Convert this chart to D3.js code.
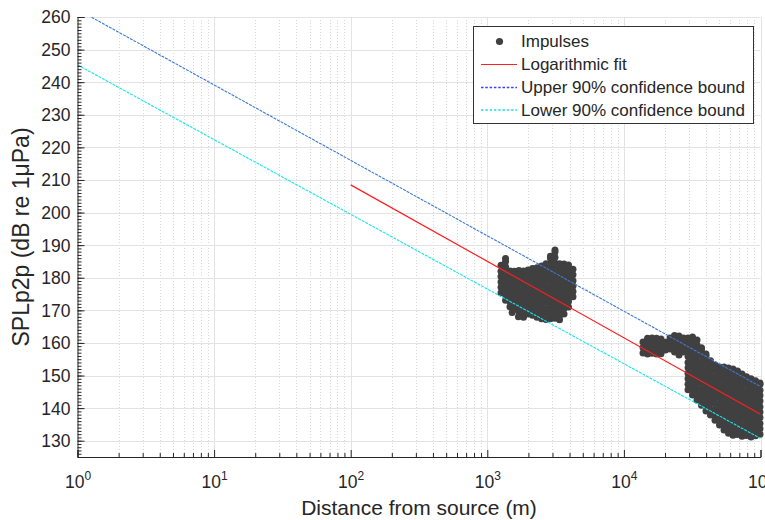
<!DOCTYPE html>
<html>
<head>
<meta charset="utf-8">
<script src="https://cdn.jsdelivr.net/npm/d3@7"></script>
<style>
  html, body { margin: 0; padding: 0; background: #fff; }
  svg { display: block; font-family: "Liberation Sans", Arial, Helvetica, sans-serif; }
</style>
</head>
<body>
<svg id="chart" width="765" height="520"></svg>
<script>
// Impulse peak-to-peak levels, grouped by distance: [distance (m), [SPLp2p values (dB)]]
const nearImpulses = [
  [1260, [175.4, 177.1, 178.7, 180.4, 182.0, 183.8]],
  [1360, [173.1, 174.8, 176.6, 178.2, 180.1, 181.7, 183.4, 185.0, 185.9]],
  [1465, [171.1, 172.7, 174.5, 176.1, 177.9, 179.6, 181.2, 182.1]],
  [1520, [169.3]],
  [1580, [170.3, 171.9, 173.6, 175.2, 177.0, 178.7, 180.3, 182.0]],
  [1690, [168.0]],
  [1705, [169.6, 171.2, 172.9, 174.7, 176.2, 178.0, 179.7, 181.3, 182.2]],
  [1840, [167.9, 169.3, 171.0, 172.6, 174.4, 176.0, 177.8, 179.4, 181.1, 182.1]],
  [1985, [168.9, 170.5, 172.3, 174.0, 175.6, 177.4, 179.0, 180.8, 182.4]],
  [2140, [168.5, 170.3, 171.9, 173.7, 175.3, 177.1, 178.7, 180.5, 182.1, 182.8]],
  [2310, [167.9, 169.7, 171.3, 173.0, 174.6, 176.4, 178.1, 179.7, 181.5, 183.1]],
  [2495, [167.4, 169.0, 170.8, 172.4, 174.2, 175.8, 177.6, 179.2, 181.0, 182.6, 183.6]],
  [2690, [167.2, 169.0, 170.6, 172.4, 174.0, 175.8, 177.4, 179.2, 180.8, 182.6, 184.3]],
  [2900, [167.4, 169.1, 170.7, 172.5, 174.2, 175.9, 177.5, 179.3, 180.9, 182.7, 184.4, 186.0, 186.6]],
  [3130, [167.6, 169.2, 171.0, 172.6, 174.4, 176.1, 177.7, 179.5, 181.1, 182.9, 184.5, 186.3, 187.9, 188.5]],
  [3380, [167.1, 168.3, 169.9, 171.6, 173.3, 174.9, 176.7, 178.3, 180.1, 181.7, 183.5, 184.3]],
  [3645, [168.9, 170.6, 172.2, 174.0, 175.6, 177.4, 179.0, 180.8, 182.5, 184.2]],
  [3930, [171.0, 172.7, 174.3, 176.1, 177.7, 179.5, 181.1, 182.9, 183.9]],
  [4240, [174.2, 175.8, 177.5, 179.1, 180.9, 182.6]]
];

const farImpulses = [
  [13800, [156.9, 158.6, 160.3]],
  [14890, [156.6, 158.2, 159.9, 161.4]],
  [16060, [156.8, 158.5, 160.2, 161.5]],
  [17330, [156.6, 158.3, 160.0, 161.4]],
  [18690, [156.7, 158.4, 160.1, 161.2]],
  [20160, [157.8, 159.3, 160.2]],
  [21760, [158.1, 159.8, 161.5]],
  [23470, [157.2, 158.9, 160.6, 162.3]],
  [25320, [156.3, 158.0, 159.7, 161.4, 162.1]],
  [27320, [157.2, 158.9, 160.6, 161.5]],
  [29470, [145.6, 147.3, 149.0, 150.6, 152.4, 154.0, 155.8, 157.5, 159.1, 160.9, 161.5]],
  [31780, [144.0, 145.7, 147.4, 149.1, 150.7, 152.5, 154.2, 155.8, 157.6, 159.2, 161.0, 161.8]],
  [34290, [142.5, 144.2, 145.8, 147.6, 149.2, 151.0, 152.7, 154.3, 156.1, 157.8, 159.4, 160.9]],
  [36990, [140.9, 142.6, 144.3, 145.9, 147.7, 149.3, 151.1, 152.8, 154.4, 156.2, 157.9, 158.5]],
  [39900, [139.1, 140.8, 142.4, 144.2, 145.9, 147.5, 149.3, 151.0, 152.6, 154.4, 156.0, 156.6]],
  [43050, [137.9, 139.5, 141.3, 143.0, 144.6, 146.4, 148.1, 149.7, 151.5, 153.2, 154.5]],
  [46440, [136.3, 138.0, 139.6, 141.4, 143.1, 144.7, 146.5, 148.2, 149.8, 151.6, 153.2]],
  [50110, [134.8, 136.4, 138.2, 139.9, 141.5, 143.3, 145.0, 146.6, 148.4, 150.1, 151.7, 152.6]],
  [54060, [133.3, 135.0, 136.6, 138.4, 140.1, 141.7, 143.5, 145.2, 146.8, 148.6, 150.3, 151.9, 152.6]],
  [58310, [132.3, 134.0, 135.7, 137.3, 139.1, 140.8, 142.4, 144.2, 145.9, 147.5, 149.3, 151.0, 152.3]],
  [62910, [131.7, 133.4, 135.0, 136.8, 138.5, 140.1, 141.9, 143.6, 145.2, 147.0, 148.7, 150.3, 152.0]],
  [67860, [131.9, 133.5, 135.3, 137.0, 138.6, 140.4, 142.1, 143.7, 145.5, 147.2, 148.8, 150.6, 151.4]],
  [73210, [131.4, 133.1, 134.7, 136.5, 138.2, 139.8, 141.6, 143.3, 144.9, 146.7, 148.4, 150.0, 150.5]],
  [78980, [131.6, 133.3, 134.9, 136.7, 138.4, 140.0, 141.8, 143.5, 145.1, 146.9, 148.5, 149.6]],
  [85210, [131.1, 132.8, 134.4, 136.2, 137.9, 139.5, 141.3, 143.0, 144.6, 146.4, 148.1, 149.0]],
  [91920, [131.5, 133.2, 134.8, 136.6, 138.3, 139.9, 141.7, 143.4, 145.0, 146.8, 148.4]],
  [99160, [132.0, 133.7, 135.3, 137.1, 138.8, 140.4, 142.2, 143.9, 145.5, 147.3, 147.7]]
];

// Logarithmic fit and its 90% confidence bounds, as [distance (m), SPL (dB)] end points
const fitLine    = [[100, 208.5], [100000, 138.1]];
const upperBound = [[1, 262.3],   [100000, 146.6]];
const lowerBound = [[1, 245.3],   [100000, 130.7]];

// Axis ticks
const xTicks = [1, 10, 100, 1000, 10000, 100000];
const xExponents = ["0", "1", "2", "3", "4", "5"];
const yTicks = [130, 140, 150, 160, 170, 180, 190, 200, 210, 220, 230, 240, 250, 260];

const legendLabels = ["Impulses", "Logarithmic fit", "Upper 90% confidence bound", "Lower 90% confidence bound"];

// ---------------------------------------------------------------------------
const plot = { left: 77.5, right: 760.5, top: 17, bottom: 457 };
const textColor = "#262626";

const x = d3.scaleLog().domain([1, 100000]).range([plot.left, plot.right]);
const y = d3.scaleLinear().domain([125, 260]).range([plot.bottom, plot.top]);
const crisp = v => Math.round(v) + 0.5;

const svg = d3.select("#chart");

svg.append("defs").append("clipPath").attr("id", "plotClip")
  .append("rect")
  .attr("x", plot.left).attr("y", plot.top)
  .attr("width", plot.right - plot.left).attr("height", plot.bottom - plot.top);

// Grid
const grid = svg.append("g");
const minorX = x.ticks().filter(v => !xTicks.includes(v));
grid.selectAll("line.minor-x").data(minorX).join("line")
  .attr("class", "minor-x")
  .attr("x1", d => crisp(x(d))).attr("x2", d => crisp(x(d)))
  .attr("y1", plot.top).attr("y2", plot.bottom)
  .attr("stroke", "#d9d9d9").attr("stroke-dasharray", "1,2");
grid.selectAll("line.major-x").data(xTicks.slice(1)).join("line")
  .attr("class", "major-x")
  .attr("x1", d => crisp(x(d))).attr("x2", d => crisp(x(d)))
  .attr("y1", plot.top).attr("y2", plot.bottom)
  .attr("stroke", "#e3e3e3");
grid.selectAll("line.major-y").data(yTicks).join("line")
  .attr("class", "major-y")
  .attr("x1", plot.left).attr("x2", plot.right)
  .attr("y1", d => crisp(y(d))).attr("y2", d => crisp(y(d)))
  .attr("stroke", "#e3e3e3");

// Impulses
const points = nearImpulses.concat(farImpulses)
  .flatMap(([dist, levels]) => levels.map(v => [dist, v]));
svg.append("g")
  .selectAll("circle").data(points).join("circle")
  .attr("cx", d => x(d[0])).attr("cy", d => y(d[1]))
  .attr("r", 3.5).attr("fill", "#404040");

// Fit and bounds
const line = d3.line().x(d => x(d[0])).y(d => y(d[1]));
const lines = svg.append("g").attr("clip-path", "url(#plotClip)");
lines.append("path").datum(upperBound).attr("d", line)
  .attr("fill", "none").attr("stroke", "#3a7ad4").attr("stroke-width", 1.1)
  .attr("stroke-dasharray", "3,1");
lines.append("path").datum(lowerBound).attr("d", line)
  .attr("fill", "none").attr("stroke", "#14e6ee").attr("stroke-width", 1.1)
  .attr("stroke-dasharray", "3,1");
lines.append("path").datum(fitLine).attr("d", line)
  .attr("fill", "none").attr("stroke", "#ff1f1f").attr("stroke-width", 1.2);

// Axes
const yMajor = svg.append("g").attr("transform", `translate(${plot.left},0)`)
  .call(d3.axisLeft(y).tickValues(yTicks).tickSize(-7).tickPadding(7));
const yMinor = svg.append("g").attr("transform", `translate(${plot.left},0)`)
  .call(d3.axisLeft(y).tickValues(d3.range(125, 261, 1)).tickSize(-4).tickFormat(""));
const xMajor = svg.append("g").attr("transform", `translate(0,${plot.bottom})`)
  .call(d3.axisBottom(x).tickValues(xTicks).tickSize(-7).tickPadding(12).tickFormat(""));
const xMinor = svg.append("g").attr("transform", `translate(0,${plot.bottom})`)
  .call(d3.axisBottom(x).tickValues(minorX).tickSize(-4).tickFormat(""));

[yMajor, yMinor, xMajor, xMinor].forEach(g => {
  g.select(".domain").attr("stroke", textColor);
  g.selectAll(".tick line").attr("stroke", textColor);
});
yMinor.select(".domain").remove();
xMinor.select(".domain").remove();

yMajor.selectAll(".tick text")
  .attr("fill", textColor).attr("font-size", "17.5px")
  .attr("font-family", "'Liberation Sans', Arial, sans-serif")
  .attr("dy", "0.34em");

// Decade labels 10^n with superscript exponents
xMajor.selectAll(".tick").each(function (d, i) {
  const t = d3.select(this).append("text")
    .attr("y", 31).attr("fill", textColor)
    .attr("font-size", "17.5px").attr("text-anchor", "middle")
    .attr("font-family", "'Liberation Sans', Arial, sans-serif");
  t.append("tspan").text("10");
  t.append("tspan").attr("dy", -8).attr("font-size", "12px").text(xExponents[i]);
});

// Axis titles
svg.append("text")
  .attr("x", 419).attr("y", 515)
  .attr("text-anchor", "middle").attr("fill", textColor).attr("font-size", "21px")
  .text("Distance from source (m)");
svg.append("text")
  .attr("transform", "translate(29,237) rotate(-90)")
  .attr("text-anchor", "middle").attr("fill", textColor).attr("font-size", "23px")
  .text("SPLp2p (dB re 1μPa)");

// Legend
const legend = svg.append("g");
legend.append("rect")
  .attr("x", 473.5).attr("y", 26.5).attr("width", 280).attr("height", 97)
  .attr("fill", "#fff").attr("stroke", "#333").attr("stroke-width", 1);
const rowY = [41.5, 64.5, 87.5, 110];
legend.append("circle").attr("cx", 499.5).attr("cy", rowY[0]).attr("r", 3.6).attr("fill", "#404040");
legend.append("line").attr("x1", 481).attr("x2", 517).attr("y1", rowY[1]).attr("y2", rowY[1])
  .attr("stroke", "#ff1f1f").attr("stroke-width", 1.2);
legend.append("line").attr("x1", 481).attr("x2", 517).attr("y1", rowY[2]).attr("y2", rowY[2])
  .attr("stroke", "#3d3dff").attr("stroke-width", 1.3).attr("stroke-dasharray", "2.5,1.8");
legend.append("line").attr("x1", 481).attr("x2", 517).attr("y1", rowY[3]).attr("y2", rowY[3])
  .attr("stroke", "#22dddd").attr("stroke-width", 1.3).attr("stroke-dasharray", "2.5,1.8");
legend.selectAll("text.lbl").data(legendLabels).join("text")
  .attr("class", "lbl")
  .attr("x", 521).attr("y", (d, i) => rowY[i]).attr("dy", "0.35em")
  .attr("fill", textColor).attr("font-size", "17px")
  .text(d => d);
</script>
</body>
</html>
